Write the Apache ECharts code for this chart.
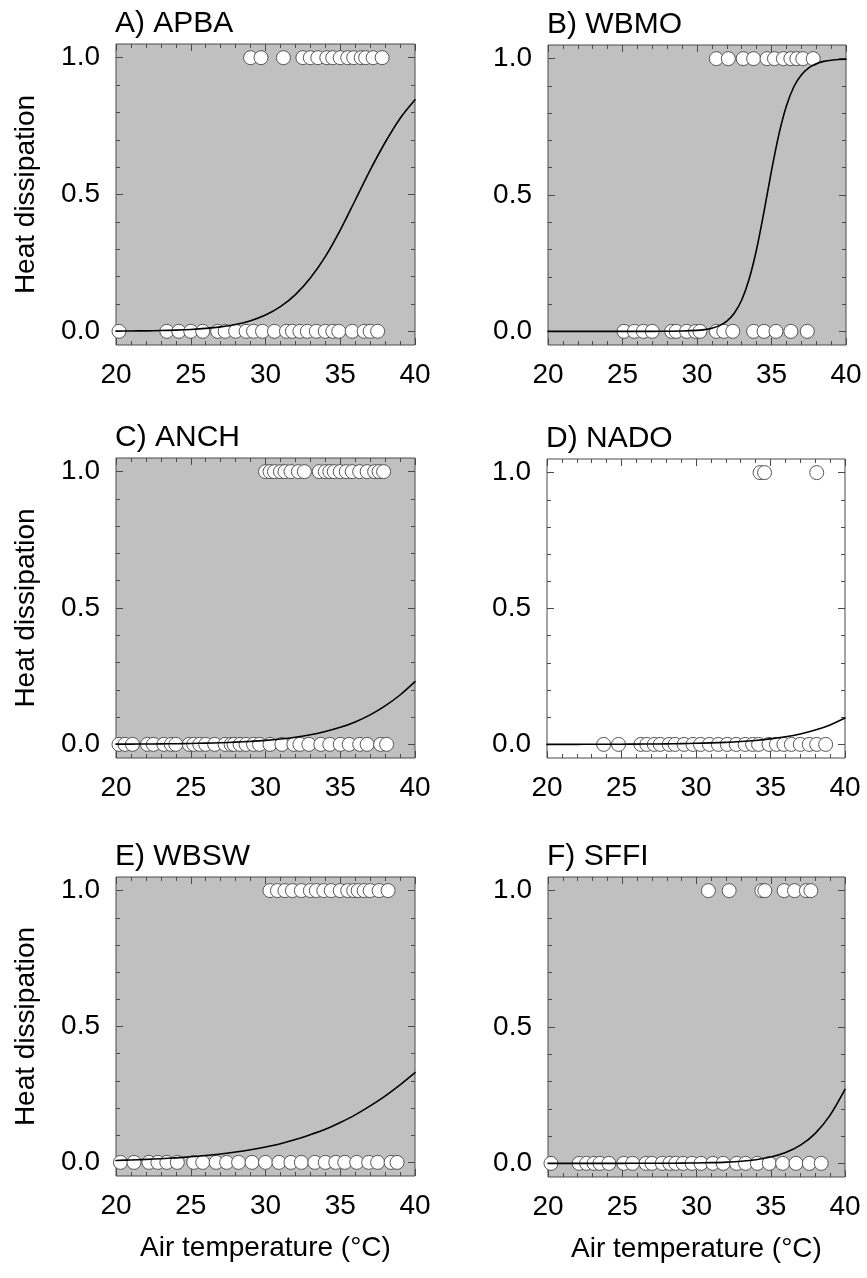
<!DOCTYPE html>
<html>
<head>
<meta charset="utf-8">
<script src="https://cdn.jsdelivr.net/npm/echarts@6/dist/echarts.min.js"></script>
<style>
  html, body { margin: 0; padding: 0; background: #fff; }
  #chart { width: 867px; height: 1278px; }
</style>
</head>
<body>
<div id="chart"></div>
<script>
// Panel titles (site codes)
const panelTitles = ['A) APBA', 'B) WBMO', 'C) ANCH', 'D) NADO', 'E) WBSW', 'F) SFFI'];

// Air temperatures (°C) of observations with heat dissipation = 1
const onA = [29.0, 29.7, 31.2, 32.5, 33.0, 33.5, 34.1, 34.5, 35.0, 35.5, 35.9, 36.4, 36.7, 37.2, 37.8];
const onB = [31.3, 32.1, 33.1, 33.8, 34.7, 35.2, 35.8, 36.3, 36.7, 37.1, 37.8];
const onC = [30.0, 30.3, 30.6, 31.0, 31.3, 31.7, 32.2, 32.6, 33.6, 34.0, 34.3, 34.6, 35.0, 35.4, 35.8, 36.3, 36.8, 37.3, 37.6, 37.9];
const onD = [34.3, 34.6, 38.1];
const onE = [30.3, 30.8, 31.3, 31.8, 32.4, 33.0, 33.4, 33.9, 34.4, 35.0, 35.5, 35.9, 36.2, 36.6, 37.0, 37.6, 38.2];
const onF = [30.8, 32.2, 34.4, 34.6, 35.9, 36.6, 37.4, 37.7];

// Air temperatures (°C) of observations with heat dissipation = 0
const offA = [20.2, 23.4, 24.2, 25.0, 25.8, 26.8, 27.3, 28.0, 28.7, 29.2, 29.8, 30.6, 31.4, 31.8, 32.3, 32.8, 33.4, 34.0, 34.5, 34.9, 35.8, 36.6, 37.0, 37.5];
const offB = [25.1, 25.8, 26.4, 27.0, 28.3, 28.6, 29.3, 29.9, 30.2, 31.3, 31.8, 32.4, 33.8, 34.5, 35.3, 36.3, 37.4];
const offC = [20.2, 20.6, 21.1, 22.1, 22.5, 23.2, 23.7, 24.0, 24.9, 25.2, 25.6, 26.0, 26.6, 27.3, 27.7, 27.9, 28.3, 28.7, 29.2, 29.6, 30.3, 31.1, 31.9, 32.3, 32.9, 33.7, 34.3, 35.0, 35.6, 36.3, 36.8, 37.7, 38.1];
const offD = [23.8, 24.8, 26.3, 26.7, 27.2, 27.6, 28.2, 28.6, 29.2, 29.8, 30.3, 30.9, 31.5, 32.1, 32.7, 33.3, 33.8, 34.2, 34.9, 35.4, 35.9, 36.4, 37.0, 37.6, 38.1, 38.7];
const offE = [20.3, 21.2, 22.2, 22.8, 23.4, 24.1, 25.2, 25.8, 26.7, 27.4, 28.2, 29.1, 30.0, 30.9, 31.7, 32.4, 33.3, 34.0, 34.7, 35.3, 36.1, 36.9, 37.5, 38.4, 38.8];
const offF = [20.2, 22.1, 22.6, 23.1, 23.5, 24.1, 25.1, 25.7, 26.6, 27.0, 27.7, 28.2, 28.6, 29.1, 29.7, 30.3, 31.1, 31.8, 32.7, 33.3, 34.1, 34.9, 35.8, 36.7, 37.6, 38.4];

// Fitted probability curves
const fitTemps = [20, 21, 22, 23, 24, 25, 26, 27, 28, 29, 30, 31, 32, 33, 34, 35, 36, 37, 38, 39, 40];
const fitA = [0.0007, 0.0012, 0.0018, 0.0028, 0.0043, 0.0068, 0.0106, 0.0163, 0.025, 0.0389, 0.0595, 0.090, 0.134, 0.195, 0.273, 0.370, 0.479, 0.589, 0.690, 0.778, 0.846];
const fitTempsB = [20, 21, 22, 23, 24, 25, 26, 27, 28, 29, 30, 30.5, 31, 31.5, 32, 32.5, 33, 33.5, 34, 34.5, 35, 35.5, 36, 36.5, 37, 37.5, 38, 38.5, 39, 39.5, 40];
const fitB = [0, 0, 0, 0, 0, 0, 0, 0.0001, 0.0003, 0.0011, 0.0035, 0.0064, 0.0117, 0.021, 0.0377, 0.0666, 0.115, 0.192, 0.301, 0.44, 0.589, 0.723, 0.826, 0.897, 0.940, 0.966, 0.981, 0.990, 0.994, 0.997, 0.998];
const fitC = [0.0007, 0.001, 0.0013, 0.0018, 0.0025, 0.0033, 0.0045, 0.006, 0.0081, 0.0109, 0.0146, 0.0196, 0.0263, 0.0352, 0.047, 0.0624, 0.0824, 0.108, 0.141, 0.181, 0.230];
const fitD = [0.0001, 0.0002, 0.0003, 0.0004, 0.0006, 0.0008, 0.0011, 0.0015, 0.002, 0.0028, 0.004, 0.0055, 0.0076, 0.0106, 0.0146, 0.0202, 0.0279, 0.0384, 0.0527, 0.0718, 0.097];
const fitE = [0.0073, 0.009, 0.011, 0.0137, 0.0168, 0.0206, 0.0253, 0.031, 0.038, 0.0466, 0.057, 0.069, 0.084, 0.102, 0.122, 0.147, 0.175, 0.208, 0.244, 0.285, 0.330];
const fitF = [0, 0, 0, 0, 0, 0.0001, 0.0002, 0.0003, 0.0005, 0.0009, 0.0015, 0.0026, 0.0045, 0.0078, 0.0135, 0.0232, 0.0395, 0.0666, 0.110, 0.177, 0.271];

// Axis ticks
const yMajorTicks = [0, 0.5, 1];
const yMinorTicks = [0.1, 0.2, 0.3, 0.4, 0.6, 0.7, 0.8, 0.9];
const xAxisName = 'Air temperature (°C)';
const yAxisName = 'Heat dissipation';

const panels = [
  { on: onA, off: offA, fx: fitTemps, fy: fitA },
  { on: onB, off: offB, fx: fitTempsB, fy: fitB },
  { on: onC, off: offC, fx: fitTemps, fy: fitC },
  { on: onD, off: offD, fx: fitTemps, fy: fitD },
  { on: onE, off: offE, fx: fitTemps, fy: fitE },
  { on: onF, off: offF, fx: fitTemps, fy: fitF }
];

// Plot frames (pixel boxes)
const boxes = [
  { left: 116, top: 44, width: 299, height: 301 },
  { left: 548, top: 45, width: 298, height: 300 },
  { left: 116, top: 458, width: 299, height: 300 },
  { left: 547, top: 459, width: 298, height: 299 },
  { left: 116, top: 877, width: 299, height: 299 },
  { left: 548, top: 877, width: 297, height: 300 }
];

const FONT = 'Liberation Sans, Arial, sans-serif';
const FRAME = '#4a4a4a';
const grids = [], xAxes = [], yAxes = [], series = [], titles = [];

boxes.forEach((b, i) => {
  const isLeft = i % 2 === 0;
  const isBottom = i >= 4;
  grids.push({
    left: b.left, top: b.top, width: b.width, height: b.height,
    show: true, containLabel: false,
    backgroundColor: i === 3 ? '#ffffff' : '#c0c0c0',
    borderColor: FRAME, borderWidth: 1
  });
  titles.push({
    text: panelTitles[i], left: b.left - 1, top: b.top - 35,
    textStyle: { fontFamily: FONT, fontSize: 30, fontWeight: 'normal', color: '#000' },
    padding: 0
  });

  const xBase = {
    type: 'value', gridIndex: i, min: 20, max: 40, interval: 5,
    axisLine: { show: false, onZero: false }, splitLine: { show: false },
    axisTick: { show: true, inside: true, length: 7, lineStyle: { color: FRAME } },
    minorTick: { show: true, splitNumber: 5, length: 4, lineStyle: { color: FRAME } }
  };
  const xi = xAxes.length;
  xAxes.push(Object.assign({}, xBase, {
    position: 'bottom',
    axisLabel: { show: true, margin: 16, fontFamily: FONT, fontSize: 28, color: '#000' },
    name: isBottom ? xAxisName : '', nameLocation: 'middle', nameGap: 58,
    nameTextStyle: { fontFamily: FONT, fontSize: 28, color: '#000' }
  }));
  xAxes.push(Object.assign({}, xBase, { position: 'top', axisLabel: { show: false } }));

  const yBase = {
    type: 'value', gridIndex: i, min: -0.05, max: 1.05,
    axisLine: { show: false, onZero: false }, splitLine: { show: false }
  };
  const yi = yAxes.length;
  yAxes.push(Object.assign({}, yBase, {
    position: 'left',
    axisTick: { show: true, inside: true, length: 7, customValues: yMajorTicks, lineStyle: { color: FRAME } },
    axisLabel: { show: true, margin: 16, customValues: yMajorTicks, fontFamily: FONT, fontSize: 28, color: '#000',
      formatter: v => Number(v).toFixed(1) },
    name: isLeft ? yAxisName : '', nameLocation: 'middle', nameGap: 76, nameRotate: 90,
    nameTextStyle: { fontFamily: FONT, fontSize: 28, color: '#000' }
  }));
  yAxes.push(Object.assign({}, yBase, {
    position: 'right',
    axisTick: { show: true, inside: true, length: 7, customValues: yMajorTicks, lineStyle: { color: FRAME } },
    axisLabel: { show: false }
  }));
  yAxes.push(Object.assign({}, yBase, {
    position: 'left',
    axisTick: { show: true, inside: true, length: 4, customValues: yMinorTicks, lineStyle: { color: FRAME } },
    axisLabel: { show: false }
  }));
  yAxes.push(Object.assign({}, yBase, {
    position: 'right',
    axisTick: { show: true, inside: true, length: 4, customValues: yMinorTicks, lineStyle: { color: FRAME } },
    axisLabel: { show: false }
  }));

  const p = panels[i];
  series.push({
    type: 'scatter', xAxisIndex: xi, yAxisIndex: yi, clip: false,
    symbol: 'circle', symbolSize: 14,
    itemStyle: { color: '#ffffff', borderColor: '#555555', borderWidth: 1, opacity: 1 },
    data: p.off.map(t => [t, 0]).concat(p.on.map(t => [t, 1])),
    silent: true, z: 2
  });
  series.push({
    type: 'line', xAxisIndex: xi, yAxisIndex: yi,
    data: p.fx.map((t, k) => [t, p.fy[k]]),
    smooth: 0.3, showSymbol: false, symbol: 'none',
    lineStyle: { color: '#000', width: 1.6, join: 'round', cap: 'round' },
    silent: true, z: 3
  });
});

const chart = echarts.init(document.getElementById('chart'), null, { renderer: 'canvas' });
chart.setOption({
  animation: false,
  backgroundColor: '#ffffff',
  title: titles,
  grid: grids,
  xAxis: xAxes,
  yAxis: yAxes,
  series: series
});
</script>
</body>
</html>
